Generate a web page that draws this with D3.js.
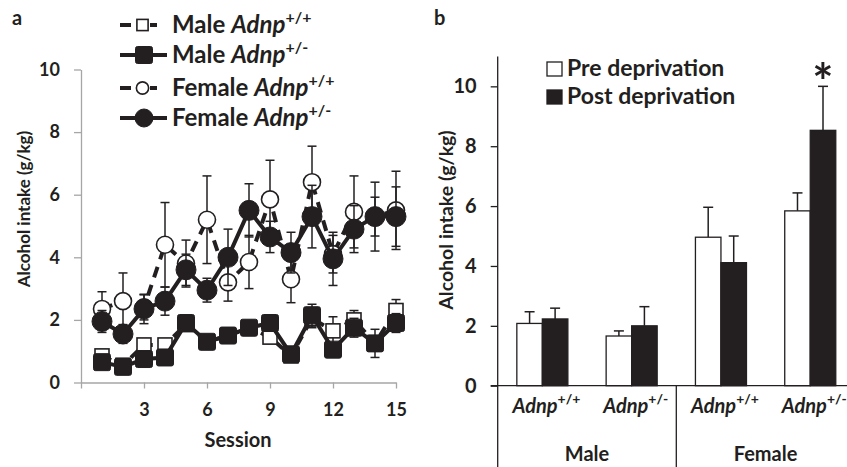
<!DOCTYPE html>
<html><head><meta charset="utf-8">
<script src="https://cdn.jsdelivr.net/npm/d3@7"></script>
<style>
html,body{margin:0;padding:0;background:#fff;}
svg{display:block;font-family:Lato,"Open Sans",sans-serif;font-weight:bold;}
</style></head>
<body>
<svg id="chart" width="847" height="467"></svg>
<script>
// ---------- Panel a data ----------
const sessions = [1,2,3,4,5,6,7,8,9,10,11,12,13,14,15];
const maleWT      = [0.85,0.55,1.2,1.2,1.85,1.3,1.5,1.75,1.45,0.85,2.05,1.65,2.0,1.25,2.3];
const maleWTErr   = [0.2,0.1,0.15,0.15,0.15,0.1,0.1,0.1,0.2,0.15,0.3,0.45,0.3,0.2,0.35];
const maleHet     = [0.65,0.5,0.75,0.8,1.9,1.3,1.5,1.75,1.9,0.9,2.15,1.05,1.75,1.25,1.9];
const maleHetErr  = [0.15,0.1,0.15,0.15,0.15,0.1,0.1,0.15,0.25,0.15,0.35,0.2,0.3,0.45,0.3];
const femWT       = [2.35,2.6,2.4,4.4,3.8,5.2,3.2,3.85,5.85,3.3,6.4,4.1,5.45,5.3,5.5];
const femWTErr    = [0.55,0.9,0.4,1.35,0.75,1.4,0.6,0.85,1.25,0.75,1.15,0.6,1.15,0.62,1.25];
const femHet      = [1.95,1.55,2.35,2.6,3.6,2.95,4.0,5.5,4.65,4.15,5.3,3.95,4.9,5.3,5.3];
const femHetErr   = [0.35,0.3,0.47,0.45,0.5,0.38,0.9,0.85,0.5,0.65,1.0,0.85,0.75,1.1,0.95];
const yTicksA = [0,2,4,6,8,10];
const xTicksA = [0,3,6,9,12,15];

// ---------- Panel b data ----------
const genotypes = ["Adnp+/+","Adnp+/-","Adnp+/+","Adnp+/-"];
const genoSup = ["+/+","+/-","+/+","+/-"];
const sexes = ["Male","Female"];
const preVals  = [2.08,1.66,4.96,5.84];
const preErr   = [0.39,0.17,1.0,0.6];
const postVals = [2.23,2.0,4.11,8.53];
const postErr  = [0.36,0.64,0.89,1.47];
const yTicksB = [0,2,4,6,8,10];

const INK = "#231f20";
const svg = d3.select("#chart");

// ================= Panel a =================
const xA = d3.scaleLinear().domain([0,15]).range([81,396]);
const yA = d3.scaleLinear().domain([0,10]).range([382.5,69.5]);
const gA = svg.append("g");

const axYA = gA.append("g").attr("transform","translate(81,0)")
  .call(d3.axisLeft(yA).tickValues(yTicksA).tickSize(7).tickSizeOuter(0).tickPadding(14));
const axXA = gA.append("g").attr("transform","translate(0,382.5)")
  .call(d3.axisBottom(xA).tickValues(xTicksA).tickSize(6).tickSizeOuter(0).tickPadding(15)
    .tickFormat(d=> d===0 ? "" : d));
[axYA,axXA].forEach(a=>{
  a.selectAll("path,line").attr("stroke","#a6a6a6").attr("stroke-width",1.3);
  a.selectAll("text").attr("fill",INK).attr("font-size",18).attr("font-family","Lato").attr("font-weight","bold");
});
gA.append("text").attr("transform","translate(30,209) rotate(-90)").attr("text-anchor","middle")
  .attr("font-size",17).attr("fill",INK).text("Alcohol intake (g/kg)");
gA.append("text").attr("x",238).attr("y",447).attr("text-anchor","middle")
  .attr("font-size",20).attr("fill",INK).text("Session");
svg.append("text").attr("x",12).attr("y",25).attr("font-size",20).attr("fill",INK).text("a");

const seriesA = [
  {vals:maleWT, err:maleWTErr, dash:"10,7", shape:"square", filled:false},
  {vals:maleHet, err:maleHetErr, dash:null, shape:"square", filled:true},
  {vals:femWT, err:femWTErr, dash:"11,8", shape:"circle", filled:false},
  {vals:femHet, err:femHetErr, dash:null, shape:"circle", filled:true}
];
function drawMarker(g, s, cx, cy, scale){
  scale = scale||1;
  if(s.shape==="circle"){
    const r = (s.filled?10:8.5)*scale;
    g.append("circle").attr("cx",cx).attr("cy",cy).attr("r",r)
      .attr("fill",s.filled?INK:"#fff").attr("stroke",INK).attr("stroke-width",s.filled?1:1.6);
  } else {
    const w = (s.filled?17:14)*scale;
    g.append("rect").attr("x",cx-w/2).attr("y",cy-w/2).attr("width",w).attr("height",w)
      .attr("rx",s.filled?2:0)
      .attr("fill",s.filled?INK:"#fff").attr("stroke",INK).attr("stroke-width",s.filled?1:1.6);
  }
}
const line = d3.line().x((d,i)=>xA(sessions[i])).y(d=>yA(d));
seriesA.forEach(s=>{
  const g = gA.append("g");
  s.vals.forEach((v,i)=>{
    const x = xA(sessions[i]);
    g.append("line").attr("x1",x).attr("x2",x).attr("y1",yA(v-s.err[i])).attr("y2",yA(v+s.err[i]))
      .attr("stroke",INK).attr("stroke-width",1.5);
    [v-s.err[i], v+s.err[i]].forEach(e=>{
      g.append("line").attr("x1",x-4.5).attr("x2",x+4.5).attr("y1",yA(e)).attr("y2",yA(e))
        .attr("stroke",INK).attr("stroke-width",1.5);
    });
  });
  g.append("path").attr("d",line(s.vals)).attr("fill","none").attr("stroke",INK)
    .attr("stroke-width",4).attr("stroke-dasharray",s.dash);
  s.vals.forEach((v,i)=> drawMarker(g,s,xA(sessions[i]),yA(v)));
});

// legend a
const legA = [
  {sex:"Male ", sup:"+/+", s:seriesA[0]},
  {sex:"Male ", sup:"+/-", s:seriesA[1]},
  {sex:"Female ", sup:"+/+", s:seriesA[2]},
  {sex:"Female ", sup:"+/-", s:seriesA[3]}
];
const legRowY = [25,55,88,118];
legA.forEach((d,i)=>{
  const cy = legRowY[i];
  const g = svg.append("g");
  if(d.s.dash){
    g.append("line").attr("x1",120).attr("x2",131).attr("y1",cy).attr("y2",cy).attr("stroke",INK).attr("stroke-width",4);
    g.append("line").attr("x1",150).attr("x2",157).attr("y1",cy).attr("y2",cy).attr("stroke",INK).attr("stroke-width",4);
    drawMarker(g,d.s,142.5,cy,d.s.shape==="circle"?0.72:0.8);
  } else {
    g.append("line").attr("x1",120).attr("x2",167).attr("y1",cy).attr("y2",cy).attr("stroke",INK).attr("stroke-width",4);
    drawMarker(g,d.s,144,cy,d.s.shape==="circle"?0.9:1);
  }
  const t = g.append("text").attr("x",172).attr("y",cy+7.5).attr("font-size",24).attr("fill",INK);
  t.append("tspan").text(d.sex);
  t.append("tspan").attr("font-style","italic").text("Adnp");
  t.append("tspan").attr("font-size",16).attr("dy",-10).text(d.sup);
});

// ================= Panel b =================
const catIds = genotypes.map((g,i)=>i);
const yB = d3.scaleLinear().domain([0,11]).range([385.7,56.4]);
const x0 = d3.scaleBand().domain(catIds).range([497.7,854.9]);
const keys = ["pre","post"];
const x1 = d3.scaleBand().domain(keys).range([0,x0.bandwidth()]).paddingOuter(0.75);
const gB = svg.append("g");
const axYB = gB.append("g").attr("transform","translate(497.7,0)")
  .call(d3.axisLeft(yB).tickValues(yTicksB).tickSize(7).tickSizeOuter(0).tickPadding(14));
axYB.select("path").remove();
axYB.selectAll("line").attr("stroke",INK).attr("stroke-width",1.3);
axYB.selectAll("text").attr("fill",INK).attr("font-size",20).attr("font-family","Lato").attr("font-weight","bold");
gB.append("line").attr("x1",497.7).attr("x2",497.7).attr("y1",yB(11)).attr("y2",467).attr("stroke",INK).attr("stroke-width",1.3);
gB.append("line").attr("x1",x0(2)).attr("x2",x0(2)).attr("y1",yB(0)).attr("y2",467).attr("stroke",INK).attr("stroke-width",1.3);

const barData = catIds.map(i=>[
  {cat:i,key:"pre",v:preVals[i],e:preErr[i]},
  {cat:i,key:"post",v:postVals[i],e:postErr[i]}
]).flat();
barData.forEach(d=>{
  const x = x0(d.cat)+x1(d.key), w = x1.bandwidth();
  gB.append("line").attr("x1",x+w/2).attr("x2",x+w/2).attr("y1",yB(d.v)).attr("y2",yB(d.v+d.e)).attr("stroke",INK).attr("stroke-width",1.5);
  gB.append("line").attr("x1",x+w/2-5).attr("x2",x+w/2+5).attr("y1",yB(d.v+d.e)).attr("y2",yB(d.v+d.e)).attr("stroke",INK).attr("stroke-width",1.5);
  gB.append("rect").attr("x",x).attr("y",yB(d.v)).attr("width",w).attr("height",yB(0)-yB(d.v))
    .attr("fill",d.key==="pre"?"#fff":INK).attr("stroke",INK).attr("stroke-width",1.3);
});
gB.append("line").attr("x1",490.7).attr("x2",847).attr("y1",yB(0)).attr("y2",yB(0)).attr("stroke",INK).attr("stroke-width",1.3);

catIds.forEach(i=>{
  const t = gB.append("text").attr("x",x0(i)+x0.bandwidth()/2+4).attr("y",413).attr("text-anchor","middle")
    .attr("font-size",20).attr("fill",INK);
  t.append("tspan").attr("font-style","italic").text(genotypes[i].replace(genoSup[i],""));
  t.append("tspan").attr("font-size",14).attr("dy",-9).text(genoSup[i]);
});
sexes.forEach((s,j)=>{
  gB.append("text").attr("x",x0(j*2)+x0.bandwidth()).attr("y",461).attr("text-anchor","middle")
    .attr("font-size",20).attr("fill",INK).text(s);
});
gB.append("text").attr("transform","translate(453,220) rotate(-90)").attr("text-anchor","middle")
  .attr("font-size",19.5).attr("fill",INK).text("Alcohol intake (g/kg)");
svg.append("text").attr("x",434).attr("y",25).attr("font-size",20).attr("fill",INK).text("b");

gB.append("text").attr("x",x0(3)+x1("post")+x1.bandwidth()/2).attr("y",100).attr("text-anchor","middle")
  .attr("font-size",50).attr("fill",INK).text("*");

[{k:"Pre deprivation",f:"#fff",y:76},{k:"Post deprivation",f:INK,y:104}].forEach(d=>{
  gB.append("rect").attr("x",547).attr("y",d.y-14).attr("width",15).attr("height",14)
    .attr("fill",d.f).attr("stroke",INK).attr("stroke-width",1.3);
  gB.append("text").attr("x",567).attr("y",d.y).attr("font-size",23).attr("fill",INK).text(d.k);
});
</script>
</body></html>
